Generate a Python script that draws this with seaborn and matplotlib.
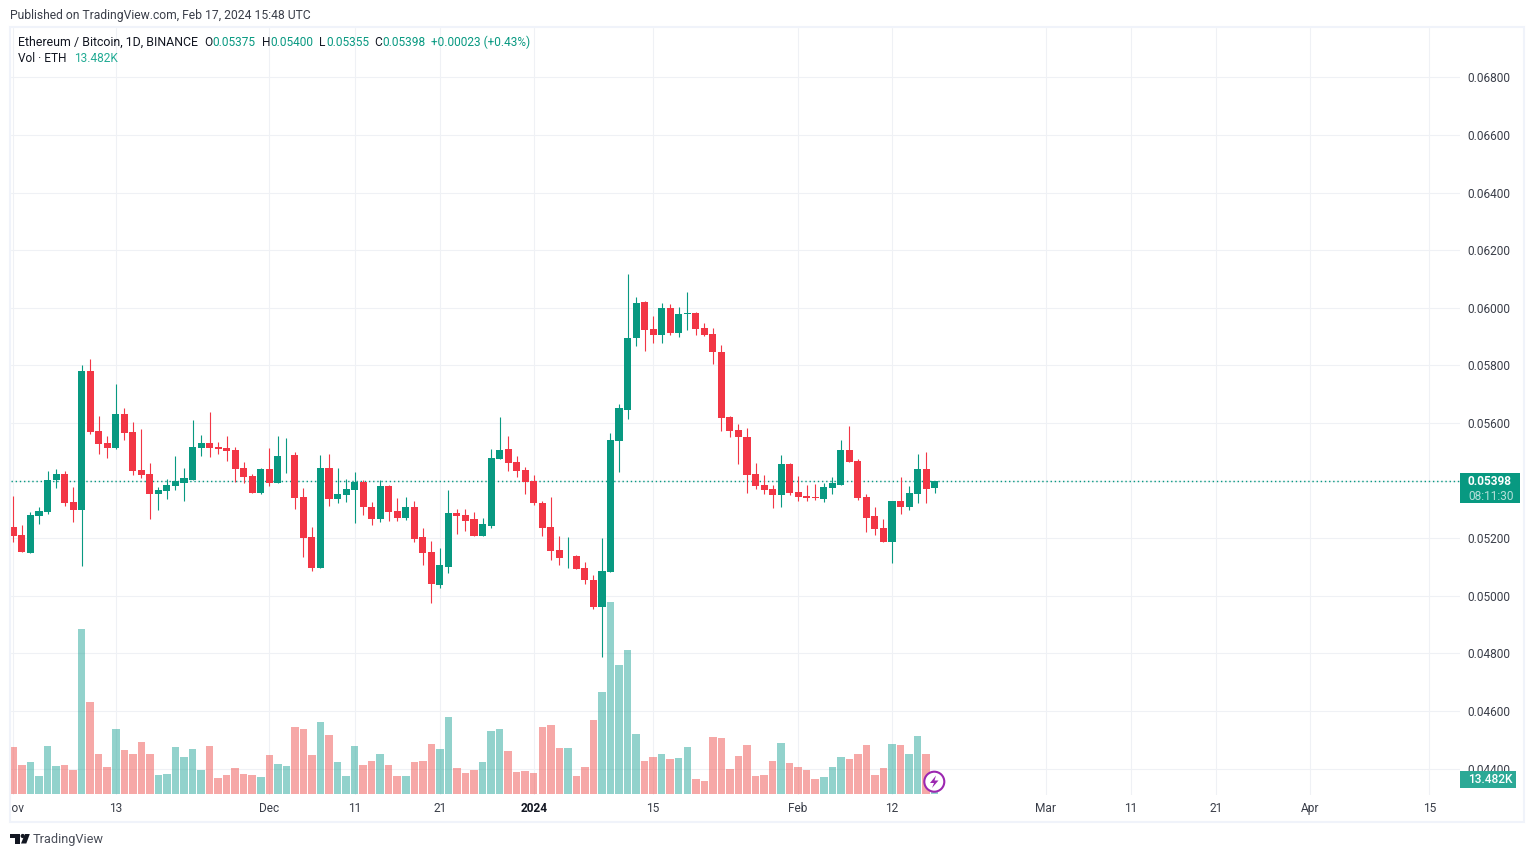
import numpy as np
import pandas as pd
import matplotlib
matplotlib.use("Agg")
import matplotlib.pyplot as plt
from matplotlib.patches import Rectangle, Polygon, Circle
from matplotlib.transforms import Bbox
import seaborn as sns

# ETH/BTC daily candles, values in 1e-5 BTC, starting 2023-11-01
start_date = "2023-11-01"
opens = [5240,5212,5149,5278,5292,5403,5423,5326,5298,5781,
         5573,5531,5514,5632,5569,5437,5423,5354,5364,5382,
         5392,5403,5514,5531,5517,5514,5507,5444,5416,5357,
         5441,5392,5487,5489,5344,5205,5097,5444,5337,5351,
         5368,5396,5309,5267,5382,5295,5271,5309,5205,5153,
         5038,5101,5288,5281,5267,5208,5243,5476,5510,5465,
         5437,5399,5323,5240,5160,5137,5139,5097,5056,4962,
         5083,5538,5646,5896,6020,5927,5906,6000,5913,5979,
         5982,5930,5909,5847,5621,5576,5552,5423,5385,5371,
         5351,5458,5361,5347,5344,5337,5375,5385,5507,5469,
         5344,5278,5236,5187,5330,5309,5354,5441,5375]
closes = [5208,5153,5281,5295,5403,5423,5323,5298,5781,5569,
          5528,5514,5632,5566,5434,5420,5354,5368,5385,5399,
          5410,5517,5531,5514,5510,5503,5441,5413,5357,5441,
          5392,5486,5489,5340,5201,5097,5444,5337,5354,5371,
          5396,5309,5267,5382,5292,5271,5309,5198,5149,5042,
          5108,5288,5278,5260,5208,5250,5479,5507,5462,5434,
          5396,5323,5236,5156,5132,5139,5094,5056,4962,5087,
          5541,5652,5896,6017,5923,5906,6000,5913,5979,5981,
          5927,5906,5847,5618,5573,5552,5420,5382,5368,5351,
          5458,5358,5344,5340,5340,5378,5392,5507,5465,5340,
          5271,5233,5187,5330,5309,5358,5441,5371,5398]
highs = [5347,5246,5292,5309,5434,5441,5434,5378,5802,5823,
         5625,5555,5736,5653,5604,5580,5462,5378,5406,5486,
         5444,5611,5559,5639,5534,5555,5517,5465,5423,5444,
         5514,5555,5548,5500,5375,5239,5489,5493,5444,5406,
         5430,5403,5326,5403,5385,5340,5344,5330,5236,5191,
         5167,5368,5302,5302,5292,5271,5510,5621,5555,5486,
         5448,5420,5330,5344,5208,5205,5142,5118,5073,5201,
         5566,5666,6118,6038,6024,5972,6017,6014,6003,6055,
         5986,5948,5930,5871,5625,5597,5583,5462,5420,5385,
         5489,5462,5416,5385,5389,5392,5413,5541,5590,5475,
         5354,5309,5267,5330,5413,5382,5493,5500,5400]
lows = [5187,5153,5149,5250,5285,5375,5312,5257,5104,5562,
        5493,5479,5510,5541,5420,5410,5267,5298,5337,5368,
        5330,5403,5486,5482,5493,5469,5396,5392,5357,5354,
        5382,5392,5427,5302,5135,5087,5097,5312,5323,5326,
        5253,5281,5246,5257,5260,5260,5264,5187,5108,4976,
        5028,5080,5215,5226,5208,5208,5236,5476,5434,5413,
        5354,5316,5208,5125,5108,5097,5094,5042,4955,4788,
        5083,5430,5614,5868,5850,5878,5878,5906,5899,5923,
        5906,5902,5805,5573,5552,5458,5358,5371,5354,5305,
        5309,5351,5330,5330,5333,5326,5354,5385,5465,5333,
        5222,5212,5187,5114,5285,5298,5323,5323,5355]
# daily volume in thousands of ETH
volumes = [45,28,31,17,46,27,28,23,159,89,
           39,26,63,42,39,50,39,18,19,45,
           36,43,23,46,15,18,25,19,18,16,
           38,29,27,65,63,38,69,57,31,17,
           46,28,32,39,28,17,17,31,32,48,
           43,74,25,20,23,31,61,63,41,21,
           22,20,65,66,44,44,17,26,71,98,
           185,124,139,58,32,36,39,34,35,45,
           14,13,55,54,24,37,47,17,18,32,
           49,30,26,23,14,16,26,36,34,39,
           47,18,25,48,47,39,56,39,13.482]

price_ticks = [0.044,0.046,0.048,0.050,0.052,0.054,0.056,0.058,0.060,0.062,0.064,0.066,0.068]
date_ticks = ["2023-11-01","2023-11-13","2023-12-01","2023-12-11","2023-12-21","2024-01-01",
              "2024-01-15","2024-02-01","2024-02-12","2024-03-01","2024-03-11","2024-03-21",
              "2024-04-01","2024-04-15"]
date_labels = ["Nov","13","Dec","11","21","2024","15","Feb","12","Mar","11","21","Apr","15"]
last_price = 0.05398
countdown = "08:11:30"
last_volume = "13.482K"

GREEN, RED = "#089981", "#F23645"
VOL_GREEN, VOL_RED = "#26A69A", "#EF5350"
GRID = "#EFF1F5"
FRAME = "#F0F3FA"
TEXT = "#131722"
MUTED = "#3a3e49"

sns.set_theme(style="white")
plt.rcParams["font.family"] = ["Roboto", "DejaVu Sans"]

W, H = 1534, 857
fig = plt.figure(figsize=(W/100, H/100), dpi=100, facecolor="white")

def px_axes(x0, y0, x1, y1, **kw):
    return fig.add_axes([x0/W, 1-y1/H, (x1-x0)/W, (y1-y0)/H], **kw)

ax = px_axes(11, 28, 1460, 795)
df = pd.DataFrame({"open": np.array(opens)/1e5, "high": np.array(highs)/1e5,
                   "low": np.array(lows)/1e5, "close": np.array(closes)/1e5,
                   "volume": volumes})
df["day"] = np.arange(len(df))
df["up"] = np.where(df["close"] >= df["open"], "up", "down")
colors = df["up"].map({"up": GREEN, "down": RED})

PX_PER_DAY = 8.53
xlim = ((11-13.4)/PX_PER_DAY, (1460-13.4)/PX_PER_DAY)
# y scale: 0.05 at y=595.7 px, 28800 px per unit price
ylim = (0.05+(595.7-795)/28800, 0.05+(595.7-28)/28800)

ax.grid(True, color=GRID, lw=0.75)
ax.set_axisbelow(True)
ax.vlines(df["day"], df["low"], df["high"], colors=colors, lw=0.8, zorder=3)
bot = df[["open","close"]].min(axis=1)
hgt = (df["open"]-df["close"]).abs().clip(lower=0.00002)
ax.bar(df["day"], hgt, bottom=bot, width=0.83, color=colors, lw=0, zorder=3)
ax.axhline(last_price, color=GREEN, lw=1.05, ls=(0, (0.95, 1.9)), zorder=2)

start = pd.Timestamp(start_date)
tick_days = [(pd.Timestamp(d)-start).days for d in date_ticks]

vax = ax.twinx()
sns.barplot(data=df, x="day", y="volume", hue="up", hue_order=["up", "down"],
            palette={"up": VOL_GREEN, "down": VOL_RED}, dodge=False, native_scale=True,
            width=0.88, saturation=1, alpha=0.5, legend=False, ax=vax, linewidth=0)
vax.set_ylim(-0.963, 766*0.963)
vax.set_xlim(*xlim)
vax.set_ylabel(""); vax.set_xlabel("")
vax.set_yticks([])
vax.tick_params(axis="x", length=0, labelbottom=False)
vax.patch.set_visible(False)
for s in vax.spines.values():
    s.set_visible(False)

ax.set_xlim(*xlim)
ax.set_ylim(*ylim)
ax.set_xticks(tick_days, date_labels)
ax.set_yticks(price_ticks, [f"{p:.5f}" for p in price_ticks])
ax.yaxis.tick_right()
ax.tick_params(axis="y", length=0, pad=5, labelsize=8.6, labelcolor=MUTED, left=False, labelleft=False, labelright=True)
ax.tick_params(axis="x", length=0, pad=5, labelsize=8.6, labelcolor=MUTED, labelbottom=True)
for lab, txt in zip(ax.get_xticklabels(), date_labels):
    if txt == "2024":
        lab.set_fontweight("bold")
        lab.set_color(TEXT)
    if txt == "Nov":
        lab.set_clip_on(True)
        lab.set_clip_box(Bbox([[11, 0], [100, H]]))
for s in ax.spines.values():
    s.set_visible(False)
ax.set_zorder(1); vax.set_zorder(2)
ax.set_ylabel(""); ax.set_xlabel("")

# Frame, header, price flags and brand overlay, in pixel coordinates
o = fig.add_axes([0, 0, 1, 1], zorder=5)
o.set_xlim(0, W); o.set_ylim(H, 0); o.axis("off"); o.patch.set_visible(False)
o.add_patch(Rectangle((10, 27), 1514, 795, fill=False, ec=FRAME, lw=1.5))

FS = 8.6
def t(x, y, s, c=TEXT, **kw):
    kw.setdefault("fontsize", FS)
    kw.setdefault("va", "center")
    o.text(x, y, s, color=c, **kw)

t(10, 15, "Published on TradingView.com, Feb 17, 2024 15:48 UTC", MUTED, fontsize=8.7)
t(18, 42, "Ethereum / Bitcoin, 1D, BINANCE", fontsize=8.9)
for x, s, c in [(204, "O", TEXT), (212, "0.05375", GREEN), (262, "H", TEXT), (270, "0.05400", GREEN),
                (319, "L", TEXT), (326, "0.05355", GREEN), (374, "C", TEXT), (382, "0.05398", GREEN),
                (431, "+0.00023 (+0.43%)", GREEN)]:
    t(x, 42, s, c)
t(18, 58.5, "Vol · ETH")
t(74, 58.5, last_volume, "#22AB94")

o.add_patch(Rectangle((1460, 473), 60, 30, fc=GREEN, ec="none", zorder=4))
t(1468, 481.5, f"{last_price:.5f}", "white", fontweight="bold", zorder=5)
t(1468, 496, countdown, "#B5E0DA", zorder=5)
o.add_patch(Rectangle((1460, 771), 56, 17, fc="#2CA996", ec="none", zorder=4))
t(1468, 779.5, last_volume, "white", fontweight="medium", zorder=5)

# lightning badge on the last volume bar
o.add_patch(Circle((934.3, 781.7), 10, fc="white", ec="#9C27B0", lw=1.5, zorder=6))
o.add_patch(Polygon([(936, 775.5), (930, 783), (934, 783), (932, 788), (938.5, 780.5), (934.5, 780.5)],
                    fc="#9C27B0", ec="none", zorder=7))

# TradingView logo
logo = "#131722"
o.add_patch(Polygon([(10, 834), (20, 834), (20, 843.5), (15, 843.5), (15, 838), (10, 838)], fc=logo, ec="none"))
o.add_patch(Circle((22.7, 836), 2.1, fc=logo, ec="none"))
o.add_patch(Polygon([(25, 834), (29.8, 834), (26.3, 843.5), (21, 843.5)], fc=logo, ec="none"))
t(33, 839.5, "TradingView", "#4a4e59", fontsize=9.2)

fig.savefig("out.png", dpi=100, facecolor="white")
